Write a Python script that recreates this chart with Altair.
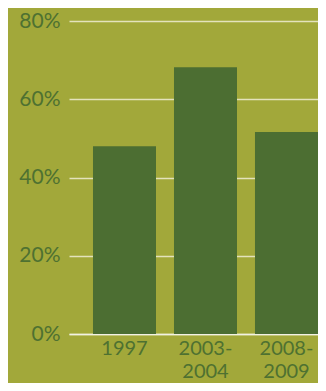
import altair as alt
import pandas as pd

categories = ["1997", "2003-2004", "2008-2009"]
values = [0.48, 0.682, 0.516]

df = pd.DataFrame({"period": categories, "share": values})

BG = "#A2A83A"
BAR = "#4C6E32"
TXT = "#4E7131"
GRID = "#E4E2BC"

chart = alt.Chart(df).mark_bar(color=BAR).encode(
    x=alt.X("period:N", sort=categories, title=None,
            scale=alt.Scale(paddingInner=0.222, paddingOuter=0.148, align=1.0),
            axis=alt.Axis(labelAngle=0, labelFont="Lato", labelFontSize=20,
                          labelColor=TXT, labelPadding=4, labelLineHeight=23,
                          labelBaseline="top",
                          labelExpr="length(datum.label) > 4 ? [slice(datum.label,0,5), slice(datum.label,5)] : datum.label",
                          ticks=False, domain=True, domainColor="#F2F2E4", domainWidth=1.5)),
    y=alt.Y("share:Q", title=None,
            scale=alt.Scale(domain=[0, 0.8], nice=False),
            axis=alt.Axis(values=[0, 0.2, 0.4, 0.6, 0.8], format=".0%",
                          labelFont="Lato", labelFontSize=21, labelColor=TXT,
                          labelPadding=9, ticks=False, domain=False,
                          grid=True, gridColor=GRID, gridWidth=1.5)),
).properties(
    width=249, height=313,
    background=BG,
    padding={"left": 61, "top": 13, "right": 0, "bottom": 49},
    autosize=alt.AutoSizeParams(type="none"),
).configure_view(stroke=None)

chart.save("out.html", embed_options={"renderer": "svg", "actions": False})
